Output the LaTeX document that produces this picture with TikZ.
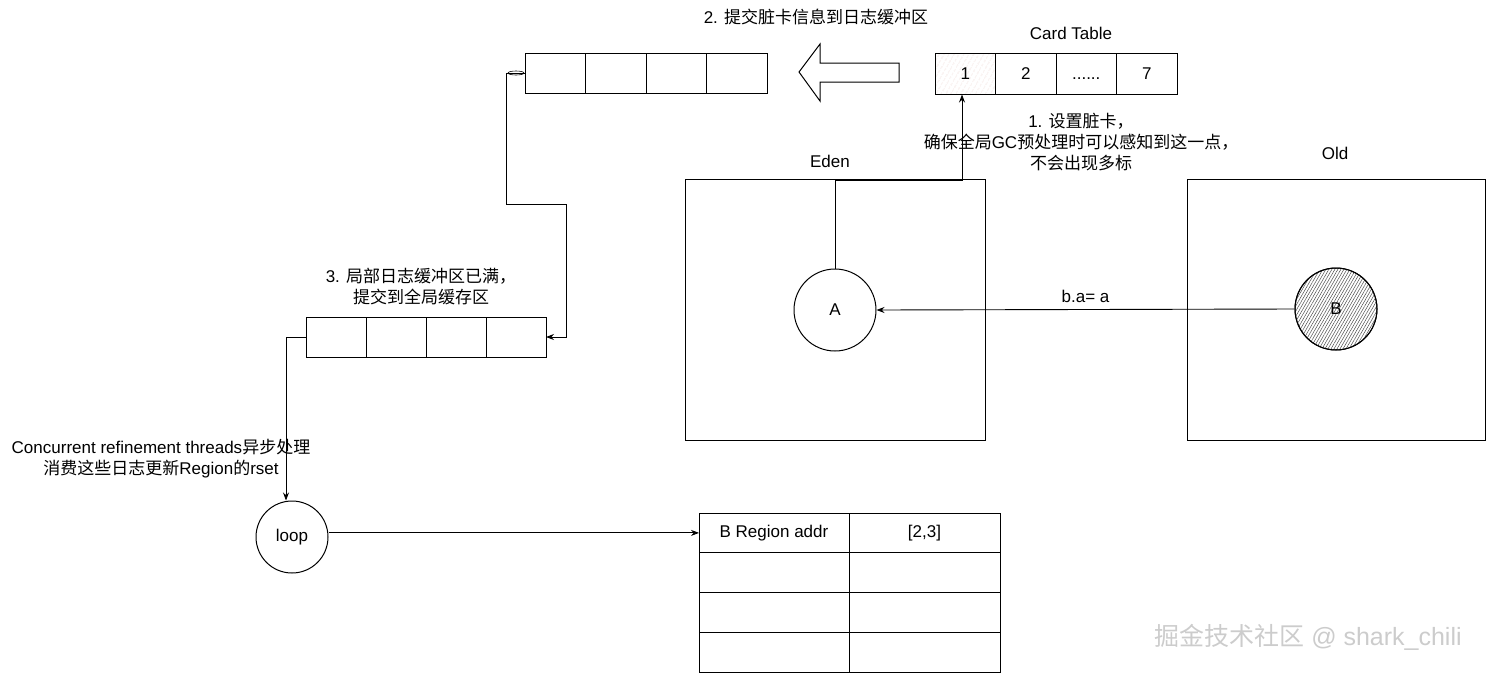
\documentclass[tikz,border=0pt]{standalone}
\usepackage{fontspec}
\setmainfont{Liberation Sans}
\newfontfamily\cjk{Noto Sans CJK SC}
\usetikzlibrary{arrows.meta,patterns.meta,positioning}
\definecolor{dirtypink}{HTML}{F8E6E3}
\definecolor{dirtyline}{HTML}{D9A8A0}
\definecolor{wmgray}{HTML}{CCCCCC}
\begin{document}
\begin{tikzpicture}[x=1pt,y=-1pt,
  every node/.style={font=\fontsize{17}{21}\selectfont},
  cell/.style={draw, line width=0.9pt, minimum height=41pt, minimum width=60.5pt, inner sep=0pt, outer sep=0pt},
  bcell/.style={draw, line width=0.9pt, minimum height=40pt, minimum width=60pt, inner sep=0pt, outer sep=0pt},
  tcell/.style={draw, line width=0.9pt, minimum height=39.75pt, inner sep=0pt, outer sep=0pt},
  region/.style={draw, line width=0.9pt, minimum height=261pt, inner sep=0pt},
  obj/.style={draw, circle, line width=1pt, minimum size=82pt, inner sep=0pt},
  conn/.style={line width=0.9pt},
  arr/.style={conn, -{Stealth[length=8pt,width=6pt]}},
  lbl/.style={align=center, inner sep=0pt}
]
\useasboundingbox (0,0) rectangle (1486,673);

% ---- card table ----
\node[lbl] (cardlbl) at (1071,33) {Card Table};
\node[cell, fill=dirtypink, pattern={Lines[angle=60,distance=4pt,line width=0.4pt]}, pattern color=dirtyline] (c1bg) at (965.25,74) {};
\node[cell] (c1) at (965.25,74) {1};
\node[cell] (c2) at (1025.75,74) {2};
\node[cell] (c3) at (1086.25,74) {\vphantom{2}......};
\node[cell] (c4) at (1146.75,74) {7};

% ---- local log buffer ----
\node[lbl] (t2) at (816,17) {2. {\cjk 提交脏卡信息到日志缓冲区}};
\node[cell, minimum height=40pt] (l1) at (555.25,73) {};
\node[cell, minimum height=40pt] (l2) at (615.75,73) {};
\node[cell, minimum height=40pt] (l3) at (676.25,73) {};
\node[cell, minimum height=40pt] (l4) at (736.75,73) {};

% ---- big hollow arrow ----
\draw[line width=1pt, fill=white] (799,72) -- (820,44) -- (820,63) -- (899,63)
  -- (899,82) -- (820,82) -- (820,101) -- cycle;

% ---- global buffer ----
\node[lbl] (t3) at (421,287) {3. {\cjk 局部日志缓冲区已满，}\\{\cjk 提交到全局缓存区}};
\node[bcell] (g1) at (336,337) {};
\node[bcell] (g2) at (396,337) {};
\node[bcell] (g3) at (456,337) {};
\node[bcell] (g4) at (516,337) {};

% ---- regions ----
\node[lbl] (edenlbl) at (830,161) {Eden};
\node[region, minimum width=300pt] (eden) at (835,309.5) {};
\node[lbl] (oldlbl) at (1335,153) {Old};
\node[region, minimum width=298pt] (old) at (1336,309.5) {};

\node[obj] (A) at (835,310) {A};
\node[obj, pattern={Lines[angle=60,distance=2.6pt,line width=0.5pt]}, pattern color=black!70] (Bbg) at (1336,309) {};
\node[obj] (B) at (1336,309) {B};

\node[lbl] (t1) at (1081,142) {1. {\cjk 设置脏卡，}\\{\cjk 确保全局}GC{\cjk 预处理时可以感知到这一点，}\\{\cjk 不会出现多标}};

% ---- loop and rset table ----
\node[lbl] (t4) at (161,459) {Concurrent refinement threads{\cjk 异步处理}\\{\cjk 消费这些日志更新}Region{\cjk 的}rset};
\node[obj, minimum size=72pt] (loop) at (292,537) {loop};

\node[tcell, minimum width=150pt] (r11) at (774,532.9) {B Region addr};
\node[tcell, minimum width=151pt] (r12) at (924.5,532.9) {[2,3]};
\node[tcell, minimum width=150pt] (r21) at (774,572.6) {};
\node[tcell, minimum width=151pt] (r22) at (924.5,572.6) {};
\node[tcell, minimum width=150pt] (r31) at (774,612.4) {};
\node[tcell, minimum width=151pt] (r32) at (924.5,612.4) {};
\node[tcell, minimum width=150pt] (r41) at (774,652.1) {};
\node[tcell, minimum width=151pt] (r42) at (924.5,652.1) {};

% ---- connectors ----
\coordinate (edtop) at (835,180);
\coordinate (edtop2) at (962,180);
\draw[arr] (A.north) -- (edtop) -- (edtop2) -- (edtop2 |- c1.south);

\draw[arr] (B.west) -- node[above=6pt, inner sep=0pt] (ba) {b.a= a} (A.east);

\coordinate (k1) at (506,73);
\coordinate (k2) at (506,204);
\coordinate (k3) at (566,204);
\draw[arr] (l1.west) -- (k1) -- (k2) -- (k3) |- (g4.east);
\draw[line width=0.6pt] (516,73) ellipse (8pt and 2pt);

\coordinate (k4) at (286,337);
\draw[arr] (g1.west) -- (k4) -- (k4 |- loop.north);

\draw[arr] (loop.east |- r11.west) -- (r11.west);

% ---- watermark ----
\node[lbl, text=wmgray, font=\fontsize{25}{30}\selectfont] (wm) at (1308,637) {{\cjk 掘金技术社区} @ shark\_chili};
\end{tikzpicture}
\end{document}
